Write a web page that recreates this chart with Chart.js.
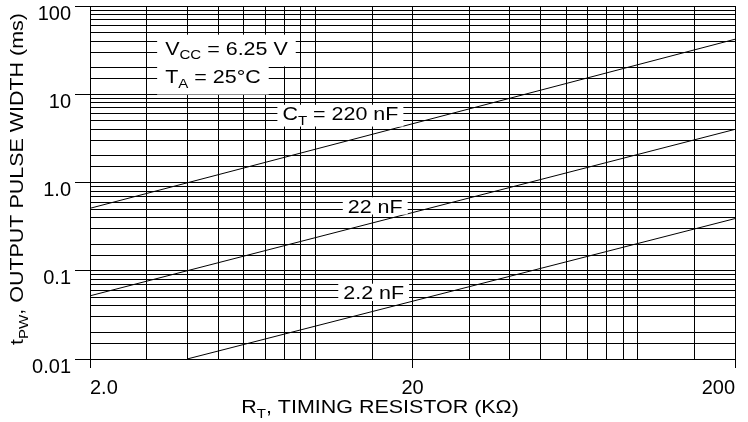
<!DOCTYPE html>
<html>
<head>
<meta charset="utf-8">
<script src="https://cdn.jsdelivr.net/npm/chart.js@4.4.1/dist/chart.umd.min.js"></script>
<style>
html, body { margin: 0; padding: 0; background: #fff; }
canvas { display: block; }
</style>
</head>
<body>
<canvas id="pulse-width" width="748" height="422"></canvas>
<script>
// R_T (kOhm) against output pulse width (ms), one line per timing capacitor
var rt = [2, 200];
var pw220 = [0.51, 42];
var pw22 = [0.052, 4.0];
var rt2 = [4, 200];
var pw2 = [0.01, 0.39];

var xTicks = [2, 20, 200];
var xTickLabels = ['2.0', '20', '200'];
var yTicks = [0.01, 0.1, 1, 10, 100];
var yTickLabels = ['0.01', '0.1', '1.0', '10', '100'];

// grid lines inside each decade
var steps = [1, 1.5, 2, 3, 4, 5, 6, 7, 8, 9];
var xDecades = [1, 10, 100];
var yDecades = [0.01, 0.1, 1, 10];

var FONT = '"Liberation Sans", Arial, Helvetica, sans-serif';
var MAIN = 18.5;
var SUB = 13;
var DROP = 4.5;
var SX = 1.16; // the original lettering is a little wide

function gridValues(decades, min, max) {
    var out = [];
    decades.forEach(function (d) {
        steps.forEach(function (s) {
            var v = s * d;
            if (v >= min * 0.9999 && v <= max * 1.0001) out.push(v);
        });
    });
    if (out.indexOf(max) < 0) out.push(max);
    return out;
}
var xGrid = gridValues(xDecades, 2, 200);
var yGrid = gridValues(yDecades, 0.01, 100);

function findTick(list, v) {
    for (var i = 0; i < list.length; i++) {
        if (Math.abs(v / list[i] - 1) < 1e-6) return i;
    }
    return -1;
}

function points(xs, ys) {
    return xs.map(function (x, i) { return { x: x, y: ys[i] }; });
}

// text pieces: plain strings, or ['XX'] for a subscript
function isSub(p) { return typeof p !== 'string'; }
function pieceText(p) { return isSub(p) ? p[0] : p; }

function richWidth(ctx, parts) {
    var w = 0;
    parts.forEach(function (p) {
        ctx.font = (isSub(p) ? SUB : MAIN) + 'px ' + FONT;
        w += ctx.measureText(pieceText(p)).width;
    });
    return w * SX;
}
function drawRich(ctx, parts, x, y) {
    ctx.save();
    ctx.translate(x, y);
    ctx.scale(SX, 1);
    ctx.fillStyle = '#000';
    ctx.textAlign = 'left';
    ctx.textBaseline = 'alphabetic';
    var cx = 0;
    parts.forEach(function (p) {
        var t = pieceText(p);
        ctx.font = (isSub(p) ? SUB : MAIN) + 'px ' + FONT;
        ctx.fillText(t, cx, isSub(p) ? DROP : 0);
        cx += ctx.measureText(t).width;
    });
    ctx.restore();
}

var notes = [
    { parts: ['V', ['CC'], ' = 6.25 V'], x: 3.42, y: 27.9, padX: 8, padY: 7 },
    { parts: ['T', ['A'], ' = 25\u00B0C'], x: 3.42, y: 13.4, padX: 8, padY: 7 },
    { parts: ['C', ['T'], ' = 220 nF'], x: 7.9, y: 5.1, padX: 5, padY: 2 },
    { parts: ['22 nF'], x: 12.6, y: 0.457, padX: 5, padY: 2 },
    { parts: ['2.2 nF'], x: 12.2, y: 0.0479, padX: 5, padY: 2 }
];

var labelPlugin = {
    id: 'labels',
    afterDatasetsDraw: function (chart) {
        var ctx = chart.ctx;
        var xs = chart.scales.x, ys = chart.scales.y;
        notes.forEach(function (n) {
            var px = xs.getPixelForValue(n.x);
            var py = ys.getPixelForValue(n.y);
            var w = richWidth(ctx, n.parts);
            var hasSub = n.parts.some(isSub);
            var top = py - MAIN * 0.716 - n.padY;
            var bottom = py + n.padY + (hasSub ? DROP : 0);
            ctx.fillStyle = '#fff';
            ctx.fillRect(px - n.padX, top, w + n.padX * 2, bottom - top);
            drawRich(ctx, n.parts, px, py);
        });

        // axis titles
        var xt = ['R', ['T'], ', TIMING RESISTOR (K\u03A9)'];
        drawRich(ctx, xt, 380 - richWidth(ctx, xt) / 2, 413);

        var yt = ['t', ['PW'], ', OUTPUT PULSE WIDTH (ms)'];
        ctx.save();
        ctx.translate(23, 179);
        ctx.rotate(-Math.PI / 2);
        drawRich(ctx, yt, -richWidth(ctx, yt) / 2, 0);
        ctx.restore();
    }
};

var lineStyle = {
    borderColor: '#000',
    borderWidth: 1,
    pointRadius: 0,
    fill: false,
    tension: 0
};

var data = {
    datasets: [
        Object.assign({ label: '220 nF', data: points(rt, pw220) }, lineStyle),
        Object.assign({ label: '22 nF', data: points(rt, pw22) }, lineStyle),
        Object.assign({ label: '2.2 nF', data: points(rt2, pw2) }, lineStyle)
    ]
};

var config = {
    type: 'line',
    data: data,
    plugins: [labelPlugin],
    options: {
        responsive: false,
        animation: false,
        events: [],
        layout: {
            autoPadding: false,
            padding: { top: 6, right: 13, left: 0, bottom: 0 }
        },
        plugins: {
            legend: { display: false },
            tooltip: { enabled: false }
        },
        scales: {
            x: {
                type: 'logarithmic',
                min: 2,
                max: 200,
                afterBuildTicks: function (scale) {
                    scale.ticks = xGrid.map(function (v) { return { value: v }; });
                },
                afterFit: function (scale) {
                    scale.height = 63;
                    scale.paddingLeft = 0;
                    scale.paddingRight = 0;
                },
                grid: {
                    color: '#000',
                    lineWidth: 1,
                    tickLength: 9,
                    tickColor: function (c) {
                        return c.tick && findTick(xTicks, c.tick.value) >= 0 ? '#000' : 'rgba(0,0,0,0)';
                    }
                },
                border: { color: '#000', width: 1 },
                ticks: {
                    autoSkip: false,
                    maxRotation: 0,
                    minRotation: 0,
                    align: 'inner',
                    padding: 8,
                    color: '#000',
                    font: { family: FONT, size: 20 },
                    callback: function (v) {
                        var i = findTick(xTicks, v);
                        return i >= 0 ? xTickLabels[i] : '';
                    }
                }
            },
            y: {
                type: 'logarithmic',
                min: 0.01,
                max: 100,
                afterBuildTicks: function (scale) {
                    scale.ticks = yGrid.map(function (v) { return { value: v }; });
                },
                afterFit: function (scale) {
                    scale.width = 90;
                    scale.paddingTop = 0;
                    scale.paddingBottom = 0;
                },
                grid: {
                    color: '#000',
                    lineWidth: 1,
                    tickLength: 15,
                    tickColor: function (c) {
                        return c.tick && findTick(yTicks, c.tick.value) >= 0 ? '#000' : 'rgba(0,0,0,0)';
                    }
                },
                border: { color: '#000', width: 1 },
                ticks: {
                    autoSkip: false,
                    padding: 4,
                    labelOffset: 8,
                    color: '#000',
                    font: { family: FONT, size: 20 },
                    callback: function (v) {
                        var i = findTick(yTicks, v);
                        return i >= 0 ? yTickLabels[i] : '';
                    }
                }
            }
        }
    }
};

var chart = new Chart(document.getElementById('pulse-width'), config);
</script>
</body>
</html>
